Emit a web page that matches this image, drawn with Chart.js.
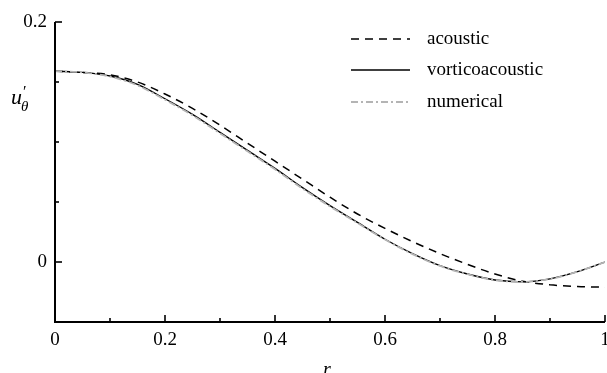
<!DOCTYPE html>
<html>
<head>
<meta charset="utf-8">
<script src="https://cdn.jsdelivr.net/npm/chart.js@4.4.1/dist/chart.umd.min.js"></script>
<style>
  html, body { margin: 0; padding: 0; background: #fff; }
</style>
</head>
<body>
<canvas id="chart" width="607" height="373"></canvas>
<script>
// radial position r
const radius = [0, 0.05, 0.1, 0.15, 0.2, 0.25, 0.3, 0.35, 0.4, 0.45, 0.5,
                0.55, 0.6, 0.65, 0.7, 0.75, 0.8, 0.85, 0.9, 0.95, 1];
// u'_theta for each model
const acoustic = [0.159, 0.158, 0.156, 0.150, 0.140, 0.128, 0.114, 0.099, 0.084, 0.069, 0.054,
                  0.040, 0.028, 0.017, 0.007, -0.002, -0.010, -0.016, -0.019, -0.0205, -0.021];
const vorticoacoustic = [0.159, 0.158, 0.155, 0.148, 0.136, 0.123, 0.108, 0.093, 0.078, 0.062, 0.047,
                         0.033, 0.019, 0.007, -0.003, -0.010, -0.015, -0.0165, -0.014, -0.008, 0];
const numerical = [0.159, 0.158, 0.1545, 0.1472, 0.1352, 0.1222, 0.1072, 0.0922, 0.0772, 0.0612, 0.0463,
                   0.0325, 0.0187, 0.0066, -0.0033, -0.0102, -0.0151, -0.0166, -0.0141, -0.0081, 0];
const xTickLabels = ['0', '0.2', '0.4', '0.6', '0.8', '1'];
const yTickLabels = ['0', '0.2'];

const serif = '"Liberation Serif", "Times New Roman", serif';

function pts(ys) {
  return radius.map((r, i) => ({ x: r, y: ys[i] }));
}

function text(ctx, str, x, y, align) {
  ctx.textAlign = align;
  ctx.fillText(str, x, y);
}

// axes drawn by hand so ticks point inward like the original
const axesPlugin = {
  id: 'axesPlugin',
  afterDraw(chart) {
    const { ctx, chartArea: a, scales: { x, y } } = chart;
    ctx.save();
    ctx.strokeStyle = '#000';
    ctx.fillStyle = '#000';
    ctx.lineWidth = 2;
    ctx.beginPath();
    ctx.moveTo(a.left, a.top);
    ctx.lineTo(a.left, a.bottom);
    ctx.lineTo(a.right, a.bottom);
    ctx.stroke();

    ctx.lineWidth = 1.6;
    x.ticks.forEach(t => {
      const px = x.getPixelForValue(t.value);
      const major = xTickLabels.includes(t.label);
      ctx.beginPath();
      ctx.moveTo(px, a.bottom);
      ctx.lineTo(px, a.bottom - (major ? 7 : 4));
      ctx.stroke();
    });
    y.ticks.forEach(t => {
      const py = y.getPixelForValue(t.value);
      const major = yTickLabels.includes(t.label);
      ctx.beginPath();
      ctx.moveTo(a.left, py);
      ctx.lineTo(a.left + (major ? 7 : 4), py);
      ctx.stroke();
    });

    ctx.font = '19px ' + serif;
    ctx.textBaseline = 'middle';
    x.ticks.forEach(t => {
      if (!t.label) return;
      text(ctx, t.label, x.getPixelForValue(t.value), a.bottom + 18, 'center');
    });
    y.ticks.forEach(t => {
      if (!t.label) return;
      text(ctx, t.label, a.left - 8, y.getPixelForValue(t.value), 'right');
    });

    // axis titles
    ctx.textBaseline = 'alphabetic';
    ctx.font = 'italic 20px ' + serif;
    text(ctx, 'r', 327, 376, 'center');
    ctx.font = 'italic 22px ' + serif;
    text(ctx, 'u', 11, 104, 'left');
    ctx.font = '16px ' + serif;
    text(ctx, '\u2032', 23, 97, 'left');
    ctx.font = 'italic 15px ' + serif;
    text(ctx, '\u03B8', 21, 111, 'left');

    // legend
    const items = chart.data.datasets.slice().reverse();
    const rows = [39, 70, 102];
    ctx.font = '19px ' + serif;
    ctx.textBaseline = 'middle';
    items.forEach((ds, i) => {
      ctx.save();
      ctx.strokeStyle = ds.borderColor;
      ctx.lineWidth = ds.borderWidth;
      ctx.setLineDash(ds.borderDash || []);
      ctx.beginPath();
      ctx.moveTo(351, rows[i]);
      ctx.lineTo(410, rows[i]);
      ctx.stroke();
      ctx.restore();
      text(ctx, ds.label, 427, rows[i], 'left');
    });
    ctx.restore();
  }
};

new Chart(document.getElementById('chart'), {
  type: 'line',
  data: {
    datasets: [
      {
        label: 'numerical',
        data: pts(numerical),
        borderColor: '#b4b4b4',
        borderWidth: 1.8,
        borderDash: [7, 3, 2, 3]
      },
      {
        label: 'vorticoacoustic',
        data: pts(vorticoacoustic),
        borderColor: '#000',
        borderWidth: 1.3
      },
      {
        label: 'acoustic',
        data: pts(acoustic),
        borderColor: '#000',
        borderWidth: 1.5,
        borderDash: [8, 6]
      }
    ]
  },
  options: {
    responsive: false,
    animation: false,
    events: [],
    elements: {
      point: { radius: 0 },
      line: { tension: 0.4, cubicInterpolationMode: 'monotone', fill: false }
    },
    layout: { autoPadding: false, padding: { top: 22, right: 2, left: 0, bottom: 0 } },
    plugins: { legend: { display: false }, tooltip: { enabled: false } },
    scales: {
      x: {
        type: 'linear',
        min: 0, max: 1,
        afterFit(s) { s.height = 51; },
        afterBuildTicks(s) {
          s.ticks = [0, 0.1, 0.2, 0.3, 0.4, 0.5, 0.6, 0.7, 0.8, 0.9, 1].map(v => ({ value: v }));
        },
        ticks: {
          display: false,
          callback(v) {
            const s = String(Math.round(v * 10) / 10);
            return xTickLabels.includes(s) ? s : '';
          }
        },
        grid: { display: false },
        border: { display: false }
      },
      y: {
        type: 'linear',
        min: -0.05, max: 0.2,
        afterFit(s) { s.width = 55; },
        afterBuildTicks(s) {
          s.ticks = [-0.05, 0, 0.05, 0.1, 0.15, 0.2].map(v => ({ value: v }));
        },
        ticks: {
          display: false,
          callback(v) {
            const s = String(Math.round(v * 100) / 100);
            return yTickLabels.includes(s) ? s : '';
          }
        },
        grid: { display: false },
        border: { display: false }
      }
    }
  },
  plugins: [axesPlugin]
});
</script>
</body>
</html>
